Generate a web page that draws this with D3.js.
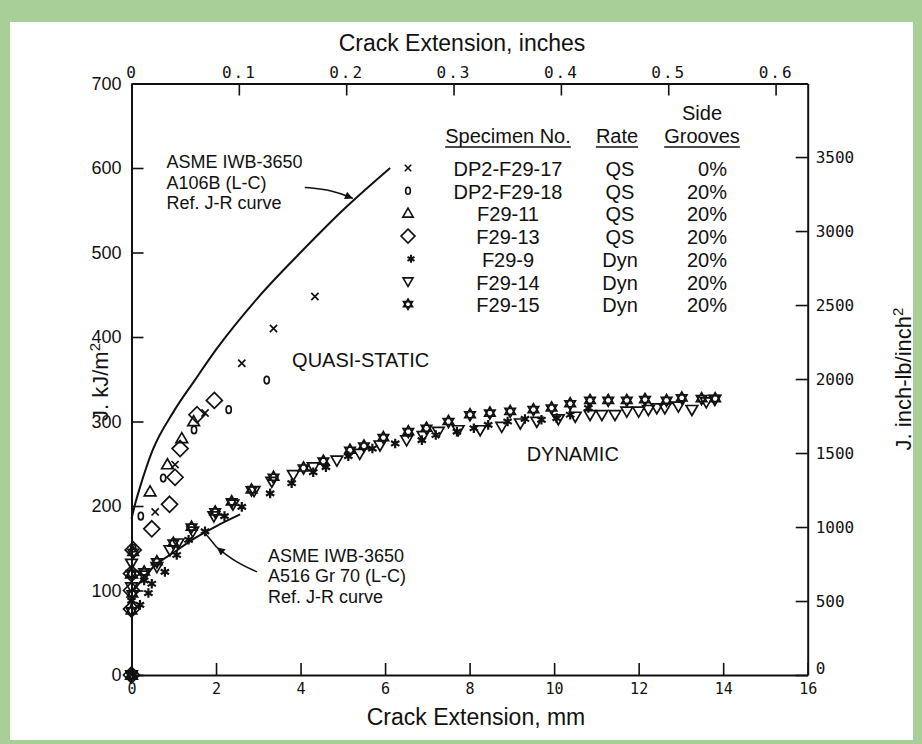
<!DOCTYPE html>
<html>
<head>
<meta charset="utf-8">
<script src="https://cdn.jsdelivr.net/npm/d3@7"></script>
<style>
    body { margin: 0; background: #a7cf97; }
    svg text { font-family: "Liberation Sans", Arial, sans-serif; fill: #111; }
    .mono text, text.mono { font-family: "DejaVu Sans Mono", "Liberation Mono", monospace; }
</style>
</head>
<body>
<div id="chart"></div>
<script>

// ---- tick values ----
let xTicksMm = [0, 2, 4, 6, 8, 10, 12, 14, 16];
let xTicksIn = [0, 0.1, 0.2, 0.3, 0.4, 0.5, 0.6];
let yTicksKJ = [0, 100, 200, 300, 400, 500, 600, 700];
let yTicksInLb = [0, 500, 1000, 1500, 2000, 2500, 3000, 3500];

// ---- legend table ----
let specimens = ["DP2-F29-17", "DP2-F29-18", "F29-11", "F29-13", "F29-9", "F29-14", "F29-15"];
let rates = ["QS", "QS", "QS", "QS", "Dyn", "Dyn", "Dyn"];
let grooves = ["0%", "20%", "20%", "20%", "20%", "20%", "20%"];
let shapes = ["x", "circle", "triangle", "diamond", "asterisk", "triangleDown", "hexagram"];

// ---- data: [crack extension mm, J kJ/m2] ----
let dp2F29_17 = [[0,0],[0.56,193],[1.03,249],[1.74,310],[2.61,369],[3.36,410],[4.34,448]];
let dp2F29_18 = [[0,0],[0.04,150],[0.22,188],[0.75,233],[1.48,290],[2.3,314],[3.2,349]];
let f29_11 = [[0,0],[0,120],[0.44,217],[0.85,249],[1.19,280],[1.47,300]];
let f29_13 = [[0,0],[0,78],[0,100],[0,120],[0.04,148],[0.48,173],[0.9,202],[1.03,234],[1.15,268],[1.55,308],[1.96,325]];
let f29_9 = [[0,88],[0.2,83],[0.3,112],[0.4,97],[0.48,108],[0.79,122],[1.07,142],[1.35,160],[1.74,170],[2.2,188],
    [2.61,199],[3.28,215],[3.79,227],[4.3,240],[4.6,246],[5.13,259],[5.7,268],[6.24,274],[6.87,278],[7.2,284],
    [7.7,288],[8.1,292],[8.44,296],[8.9,300],[9.31,303],[9.7,302],[10.06,304],[10.38,308],[10.81,316]];
let f29_14 = [[0,0],[0,104],[0,132],[0.3,118],[0.6,128],[0.91,148],[1.1,156],[1.45,170],[1.95,188],[2.4,202],
    [2.9,218],[3.32,229],[3.83,237],[4.3,246],[4.86,254],[5.4,262],[5.88,272],[6.51,278],[6.9,283],[7.26,288],
    [7.73,290],[8.25,290],[8.76,294],[9.2,298],[9.59,300],[10.1,303],[10.5,306],[10.85,308],[11.13,308],[11.44,308],
    [11.72,312],[12.0,312],[12.23,314],[12.43,316],[12.62,316],[12.94,318],[13.26,314],[13.6,323],[13.8,326]];
let f29_15 = [[0,0],[0,76],[0.02,96],[0,120],[0.04,145],[0.3,122],[0.6,134],[0.99,156],[1.42,175],[1.98,193],
    [2.37,205],[2.84,219],[3.36,234],[4.07,245],[4.54,253],[5.17,266],[5.5,271],[5.96,281],[6.55,288],[6.98,292],
    [7.5,300],[8.01,308],[8.48,310],[8.96,312],[9.51,314],[9.94,316],[10.38,321],[10.85,325],[11.28,325],[11.72,325],
    [12.15,326],[12.66,325],[13.02,328],[13.49,327],[13.81,327]];

// reference J-R curves
let refA106B = [[0,185],[0.1,205],[0.2,222],[0.5,266],[1,312],[1.5,349],[2,385],[3,447],[4,500],[5,550],[6.12,600]];
let refA516 = [[0.05,100],[0.25,113],[0.5,127],[1,145],[1.5,162],[2,176],[2.57,190]];

let seriesData = [dp2F29_17, dp2F29_18, f29_11, f29_13, f29_9, f29_14, f29_15];

// 1 kJ/m2 = 5.71 in-lb/in2
let kjToInLb = 5.71;

// ---- drawing area ----
let width = 922, height = 744;
let svg = d3.select("#chart").append("svg")
    .attr("width", width)
    .attr("height", height);

svg.append("rect").attr("x", 0).attr("y", 0).attr("width", width).attr("height", height).attr("fill", "#a7cf97");
svg.append("rect").attr("x", 10).attr("y", 22).attr("width", 903).attr("height", 718).attr("fill", "#ffffff");

let x = d3.scaleLinear().domain([0, 16]).range([131.5, 807.7]);
let xIn = d3.scaleLinear().domain([0, 16 / 25.4]).range([131.5, 807.7]);
let y = d3.scaleLinear().domain([0, 700]).range([675, 83.5]);
let yIn = d3.scaleLinear().domain([0, 700 * kjToInLb]).range([675, 83.5]);

// ---- axes (ticks point inward) ----
let axisB = svg.append("g").attr("class", "mono")
    .attr("transform", `translate(0, ${y(0)})`)
    .call(d3.axisBottom(x).tickValues(xTicksMm).tickSize(-12).tickSizeOuter(0).tickPadding(8).tickFormat(d3.format("d")));

let axisT = svg.append("g").attr("class", "mono")
    .attr("transform", `translate(0, ${y(700)})`)
    .call(d3.axisTop(xIn).tickValues(xTicksIn).tickSize(-12).tickSizeOuter(0).tickPadding(6)
        .tickFormat(d => d === 0 ? "0" : d3.format(".1f")(d)));

let axisL = svg.append("g")
    .attr("transform", `translate(${x(0)}, 0)`)
    .call(d3.axisLeft(y).tickValues(yTicksKJ).tickSize(-12).tickSizeOuter(0).tickPadding(10));

let axisR = svg.append("g").attr("class", "mono")
    .attr("transform", `translate(${x(16)}, 0)`)
    .call(d3.axisRight(yIn).tickValues(yTicksInLb).tickSize(-12).tickSizeOuter(0).tickPadding(8)
        .tickFormat(d3.format("d")));

[axisB, axisT, axisL, axisR].forEach(a => {
    a.select(".domain").attr("stroke", "#111").attr("stroke-width", 2);
    a.selectAll(".tick line").attr("stroke", "#111").attr("stroke-width", 1.6);
    a.selectAll(".tick text").attr("fill", "#111");
});
axisB.selectAll(".tick text").style("font-size", "15px");
axisT.selectAll(".tick text").style("font-size", "16px").style("letter-spacing", "2px");
axisL.selectAll(".tick text").style("font-size", "18px");
axisR.selectAll(".tick text").style("font-size", "16px");
axisR.selectAll(".tick").filter(d => d === 0).select("text").attr("dy", "-0.1em");

// axis titles
svg.append("text").attr("x", 462).attr("y", 51).attr("text-anchor", "middle")
    .style("font-size", "23px").text("Crack Extension, inches");
svg.append("text").attr("x", 476).attr("y", 725).attr("text-anchor", "middle")
    .style("font-size", "23px").text("Crack Extension, mm");

let leftTitle = svg.append("text").attr("transform", "translate(108, 382) rotate(-90)")
    .attr("text-anchor", "middle").style("font-size", "22px");
leftTitle.append("tspan").text("J. kJ/m");
leftTitle.append("tspan").attr("baseline-shift", "super").style("font-size", "15px").text("2");

let rightTitle = svg.append("text").attr("transform", "translate(911, 379) rotate(-90)")
    .attr("text-anchor", "middle").style("font-size", "22px");
rightTitle.append("tspan").text("J. inch-lb/inch");
rightTitle.append("tspan").attr("baseline-shift", "super").style("font-size", "15px").text("2");

// ---- reference curves ----
let line = d3.line().x(d => x(d[0])).y(d => y(d[1])).curve(d3.curveMonotoneX);

svg.append("path").datum(refA106B).attr("d", line)
    .attr("fill", "none").attr("stroke", "#111").attr("stroke-width", 2);
svg.append("path").datum(refA516).attr("d", line)
    .attr("fill", "none").attr("stroke", "#111").attr("stroke-width", 2);

// arrow head
svg.append("defs").append("marker")
    .attr("id", "arrow").attr("viewBox", "0 0 10 10").attr("refX", 10).attr("refY", 5)
    .attr("markerWidth", 14).attr("markerHeight", 8).attr("markerUnits", "userSpaceOnUse").attr("orient", "auto")
    .append("path").attr("d", "M0,0 L10,5 L0,10 Z").attr("fill", "#111");

let curveLine = d3.line().x(d => x(d[0])).y(d => y(d[1])).curve(d3.curveBasis);

// annotation arrows (in data units)
svg.append("path").datum([[4.1, 577], [4.75, 574], [5.24, 564]]).attr("d", curveLine)
    .attr("fill", "none").attr("stroke", "#111").attr("stroke-width", 1.5).attr("marker-end", "url(#arrow)");
svg.append("path").datum([[2.97, 122], [2.45, 134], [2.02, 151]]).attr("d", curveLine)
    .attr("fill", "none").attr("stroke", "#111").attr("stroke-width", 1.5).attr("marker-end", "url(#arrow)");
svg.append("path").datum([[2.02, 151], [1.74, 168]]).attr("d", curveLine)
    .attr("fill", "none").attr("stroke", "#111").attr("stroke-width", 1.5);

// annotation text, one text per line
function block(xv, yv, lines) {
    lines.forEach((s, i) => {
        svg.append("text").attr("x", x(xv)).attr("y", y(yv) + i * 20.5)
            .style("font-size", "18px").text(s);
    });
}
block(0.83, 600, ["ASME IWB-3650", "A106B (L-C)", "Ref. J-R curve"]);
block(3.23, 134, ["ASME IWB-3650", "A516 Gr 70 (L-C)", "Ref. J-R curve"]);

svg.append("text").attr("x", x(3.8)).attr("y", y(364)).style("font-size", "20px").text("QUASI-STATIC");
svg.append("text").attr("x", x(9.35)).attr("y", y(253)).style("font-size", "20px").text("DYNAMIC");

// ---- marker shapes ----
function shapePath(type, r) {
    let p = d3.path();
    if (type === "x") {
        p.moveTo(-r, -r); p.lineTo(r, r); p.moveTo(-r, r); p.lineTo(r, -r);
    } else if (type === "circle") {
        return `M0,${-r * 1.25} A${r * 0.85},${r * 1.25} 0 1,1 0,${r * 1.25} A${r * 0.85},${r * 1.25} 0 1,1 0,${-r * 1.25} Z`;
    } else if (type === "triangle") {
        p.moveTo(0, -r); p.lineTo(r, r * 0.72); p.lineTo(-r, r * 0.72); p.closePath();
    } else if (type === "triangleDown") {
        p.moveTo(0, r); p.lineTo(r, -r * 0.72); p.lineTo(-r, -r * 0.72); p.closePath();
    } else if (type === "diamond") {
        p.moveTo(0, -r); p.lineTo(r, 0); p.lineTo(0, r); p.lineTo(-r, 0); p.closePath();
    } else if (type === "asterisk") {
        p.moveTo(0, -r); p.lineTo(0, r);
        p.moveTo(-r * 0.87, -r * 0.5); p.lineTo(r * 0.87, r * 0.5);
        p.moveTo(-r * 0.87, r * 0.5); p.lineTo(r * 0.87, -r * 0.5);
    } else if (type === "hexagram") {
        p.moveTo(0, -r); p.lineTo(r * 0.87, r * 0.5); p.lineTo(-r * 0.87, r * 0.5); p.closePath();
        p.moveTo(0, r); p.lineTo(r * 0.87, -r * 0.5); p.lineTo(-r * 0.87, -r * 0.5); p.closePath();
    }
    return p.toString();
}
let plotSize = {x: 3.6, circle: 3, triangle: 5.8, diamond: 8, asterisk: 4.8, triangleDown: 5.8, hexagram: 6};
let legendSize = {x: 3.2, circle: 2.8, triangle: 5.2, diamond: 7, asterisk: 4, triangleDown: 5, hexagram: 5.2};

seriesData.forEach((data, i) => {
    svg.append("g").selectAll("path")
        .data(data)
        .enter()
        .append("path")
        .attr("transform", d => `translate(${x(d[0])}, ${y(d[1])})`)
        .attr("d", shapePath(shapes[i], plotSize[shapes[i]]))
        .attr("fill", "none")
        .attr("stroke", "#111")
        .attr("stroke-width", shapes[i] === "asterisk" ? 2.2 : 1.7);
});

// ---- legend table ----
let legend = svg.append("g").style("font-size", "20px");
let hdr = [["Specimen No.", 508], ["Rate", 617], ["Grooves", 702]];
legend.append("text").attr("x", 702).attr("y", 120).attr("text-anchor", "middle").text("Side");
hdr.forEach(h => {
    let t = legend.append("text").attr("x", h[1]).attr("y", 143).attr("text-anchor", "middle").text(h[0]);
    let w = t.node().getComputedTextLength();
    legend.append("line").attr("x1", h[1] - w / 2).attr("x2", h[1] + w / 2)
        .attr("y1", 147).attr("y2", 147).attr("stroke", "#111").attr("stroke-width", 1.5);
});

specimens.forEach((s, i) => {
    let by = 176 + i * 22.7;
    legend.append("path")
        .attr("transform", `translate(${shapes[i] === "asterisk" ? 411 : 408}, ${by - 8})`)
        .attr("d", shapePath(shapes[i], legendSize[shapes[i]]))
        .attr("fill", "none").attr("stroke", "#111")
        .attr("stroke-width", shapes[i] === "asterisk" ? 2 : 1.6);
    legend.append("text").attr("x", 508).attr("y", by).attr("text-anchor", "middle").text(s);
    legend.append("text").attr("x", 620).attr("y", by).attr("text-anchor", "middle").text(rates[i]);
    legend.append("text").attr("x", 727).attr("y", by).attr("text-anchor", "end").text(grooves[i]);
});

</script>
</body>
</html>
